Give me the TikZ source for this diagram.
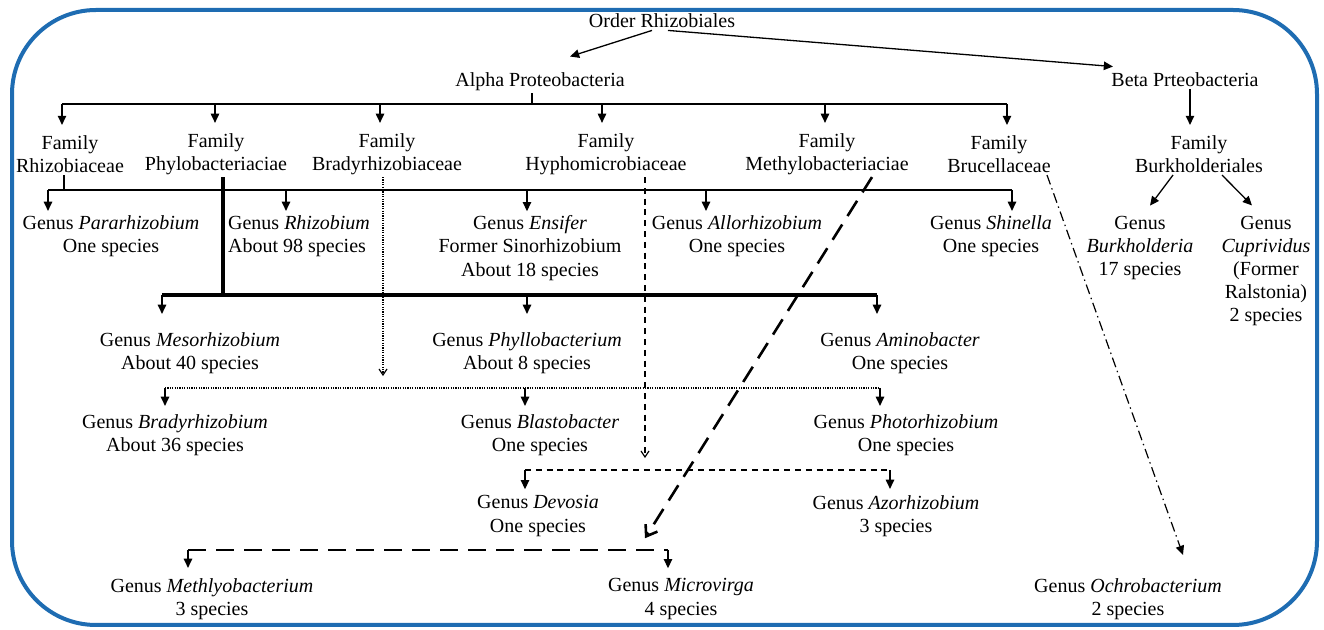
\documentclass[tikz,border=0pt]{standalone}
\usepackage{fontspec}
\setmainfont{Liberation Serif}
\newfontfamily\tnr{Liberation Serif}
\usetikzlibrary{arrows.meta}
\definecolor{framecol}{RGB}{30,108,178}
\begin{document}
\begin{tikzpicture}[x=0.5pt,y=-0.5pt,
  font=\tnr\fontsize{10}{11.6}\selectfont,
  lbl/.style={align=center, inner sep=1pt},
  conn/.style={line width=0.65pt},
  arr/.style={conn, -{Triangle[length=4.6pt,width=4.2pt]}},
  thickbar/.style={line width=1.7pt},
  dotline/.style={line width=0.6pt, dash pattern=on 0.6pt off 0.6pt},
  dashline/.style={line width=0.6pt, dash pattern=on 3pt off 2.4pt},
  longdash/.style={line width=1.3pt, dash pattern=on 9pt off 5pt},
  dashdot/.style={line width=0.6pt, dash pattern=on 5pt off 2pt on 0.7pt off 2pt},
  barb/.style={-{Straight Barb[length=3pt,width=4pt]}},
  bigbarb/.style={-{Straight Barb[length=5pt,width=7pt,line width=1.3pt]}}]
\useasboundingbox (0,0) rectangle (1324,630);
\draw[framecol, line width=2pt, rounded corners=42pt] (12,10) rectangle (1317,625);

% nodes
\node[lbl] (order) at (662,21) {Order Rhizobiales};
\node[lbl] (alpha) at (540,82) {Alpha Proteobacteria};
\node[lbl] (beta) at (1185,80) {Beta Prteobacteria};

\node[lbl] (fRhi) at (70,154) {Family\\Rhizobiaceae};
\node[lbl] (fPhy) at (216,154) {Family\\Phylobacteriaciae};
\node[lbl] (fBra) at (387,154) {Family\\Bradyrhizobiaceae};
\node[lbl] (fHyp) at (606,154) {Family\\Hyphomicrobiaceae};
\node[lbl] (fMet) at (827,154) {Family\\Methylobacteriaciae};
\node[lbl] (fBru) at (999,154) {Family\\Brucellaceae};
\node[lbl] (fBur) at (1199,154) {Family\\Burkholderiales};

\node[lbl] (gPar) at (111,236) {Genus \textit{Pararhizobium}\\One species};
\node[lbl,align=left] (gRhi) at (299,236) {Genus \textit{Rhizobium}\\About 98 species};
\node[lbl] (gEns) at (530,248) {Genus \textit{Ensifer}\\Former Sinorhizobium\\About 18 species};
\node[lbl] (gAll) at (737,236) {Genus \textit{Allorhizobium}\\One species};
\node[lbl] (gShi) at (991,236) {Genus \textit{Shinella}\\One species};
\node[lbl] (gBur) at (1140,248) {Genus\\\textit{Burkholderia}\\17 species};
\node[lbl] (gCup) at (1266,271) {Genus\\\textit{Cuprividus}\\(Former\\Ralstonia)\\2 species};

\node[lbl] (gMes) at (190,353) {Genus \textit{Mesorhizobium}\\About 40 species};
\node[lbl] (gPhy) at (527,353) {Genus \textit{Phyllobacterium}\\About 8 species};
\node[lbl] (gAmi) at (900,353) {Genus \textit{Aminobacter}\\One species};

\node[lbl] (gBra) at (175,435) {Genus \textit{Bradyrhizobium}\\About 36 species};
\node[lbl] (gBla) at (540,435) {Genus \textit{Blastobacter}\\One species};
\node[lbl] (gPho) at (906,435) {Genus \textit{Photorhizobium}\\One species};

\node[lbl] (gDev) at (538,516) {Genus \textit{Devosia}\\One species};
\node[lbl] (gAzo) at (896,516) {Genus \textit{Azorhizobium}\\3 species};

\node[lbl] (gMeth) at (212,599) {Genus \textit{Methlyobacterium}\\3 species};
\node[lbl] (gMic) at (681,599) {Genus \textit{Microvirga}\\4 species};
\node[lbl] (gOch) at (1128,599) {Genus \textit{Ochrobacterium}\\2 species};

% bar reference coordinates
\coordinate (aBar) at (532,104);
\coordinate (rBar) at (64,190);
\coordinate (pBar) at (223,295);
\coordinate (dBar) at (0,388);
\coordinate (hBar) at (0,470);
\coordinate (mBar) at (0,550);

% order level
\draw[arr] ([xshift=-5pt]order.south) -- ([xshift=15pt,yshift=7pt]alpha.north);
\draw[arr] ([xshift=3pt]order.south) -- ([xshift=-36pt,yshift=2pt]beta.north);
\draw[arr] ([xshift=2.5pt]beta.south) -- ([xshift=-4.5pt,yshift=4pt]fBur.north);

% alpha fan
\draw[conn] ([xshift=-4pt]alpha.south) -- (aBar);
\draw[conn] ([xshift=-4pt]fRhi.north |- aBar) -- ([xshift=4pt]fBru.north |- aBar);
\draw[arr] ([xshift=-4pt]fRhi.north |- aBar) -- ([xshift=-4pt,yshift=4pt]fRhi.north);
\draw[arr] ([xshift=-0.5pt]fPhy.north |- aBar) -- ([xshift=-0.5pt,yshift=4pt]fPhy.north);
\draw[arr] ([xshift=-3.5pt]fBra.north |- aBar) -- ([xshift=-3.5pt,yshift=4pt]fBra.north);
\draw[arr] ([xshift=-2pt]fHyp.north |- aBar) -- ([xshift=-2pt,yshift=4pt]fHyp.north);
\draw[arr] ([xshift=-1pt]fMet.north |- aBar) -- ([xshift=-1pt,yshift=4pt]fMet.north);
\draw[arr] ([xshift=4pt]fBru.north |- aBar) -- ([xshift=4pt,yshift=4pt]fBru.north);

% Burkholderiales
\draw[arr] ([xshift=-13pt]fBur.south) -- ([xshift=5pt,yshift=4pt]gBur.north);
\draw[arr] ([xshift=11.5pt]fBur.south) -- ([xshift=-7pt,yshift=4pt]gCup.north);

% Rhizobiaceae fan
\draw[conn] ([xshift=-3pt]fRhi.south) -- (rBar);
\draw[conn] ([xshift=-31.5pt]gPar.north |- rBar) -- ([xshift=10.5pt]gShi.north |- rBar);
\draw[arr] ([xshift=-31.5pt]gPar.north |- rBar) -- ([xshift=-31.5pt,yshift=1pt]gPar.north);
\draw[arr] ([xshift=-6.5pt]gRhi.north |- rBar) -- ([xshift=-6.5pt,yshift=1pt]gRhi.north);
\draw[arr] ([xshift=-1.5pt]gEns.north |- rBar) -- ([xshift=-1.5pt,yshift=1pt]gEns.north);
\draw[arr] ([xshift=-15.5pt]gAll.north |- rBar) -- ([xshift=-15.5pt,yshift=1pt]gAll.north);
\draw[arr] ([xshift=10.5pt]gShi.north |- rBar) -- ([xshift=10.5pt,yshift=1pt]gShi.north);

% Phylobacteriaciae fan (thick)
\draw[thickbar] ([xshift=3.5pt]fPhy.south) -- (pBar);
\draw[thickbar] ([xshift=-14pt]gMes.north |- pBar) -- ([xshift=-11.5pt]gAmi.north |- pBar);
\draw[arr] ([xshift=-14pt]gMes.north |- pBar) -- ([xshift=-14pt,yshift=8pt]gMes.north);
\draw[arr] (gPhy.north |- pBar) -- ([yshift=8pt]gPhy.north);
\draw[arr] ([xshift=-11.5pt]gAmi.north |- pBar) -- ([xshift=-11.5pt,yshift=8pt]gAmi.north);

% Bradyrhizobiaceae (dotted)
\draw[dotline, barb] ([xshift=-2pt]fBra.south) -- ([xshift=-2pt]fBra.south |- gMes.south);
\draw[dotline] ([xshift=-5pt]gBra.north |- dBar) -- ([xshift=-13pt]gPho.north |- dBar);
\draw[arr] ([xshift=-5pt]gBra.north |- dBar) -- ([xshift=-5pt,yshift=3pt]gBra.north);
\draw[arr] ([xshift=-7.5pt]gBla.north |- dBar) -- ([xshift=-7.5pt,yshift=3pt]gBla.north);
\draw[arr] ([xshift=-13pt]gPho.north |- dBar) -- ([xshift=-13pt,yshift=3pt]gPho.north);

% Hyphomicrobiaceae (dashed)
\draw[dashline, barb] ([xshift=19.5pt]fHyp.south) -- ([xshift=19.5pt]fHyp.south |- gBla.south);
\draw[dashline] ([xshift=-6.5pt]gDev.north |- hBar) -- ([xshift=-3pt]gAzo.north |- hBar);
\draw[arr] ([xshift=-6.5pt]gDev.north |- hBar) -- ([xshift=-6.5pt,yshift=2pt]gDev.north);
\draw[arr] ([xshift=-3pt]gAzo.north |- hBar) -- ([xshift=-3pt,yshift=2pt]gAzo.north);

% Methylobacteriaciae (long dashed)
\draw[longdash, bigbarb] ([xshift=22.5pt]fMet.south) -- ([xshift=-18pt,yshift=19pt]gMic.north);
\draw[longdash] ([xshift=-12pt]gMeth.north |- mBar) -- ([xshift=-6.5pt]gMic.north |- mBar);
\draw[arr] ([xshift=-12pt]gMeth.north |- mBar) -- ([xshift=-12pt,yshift=4pt]gMeth.north);
\draw[arr] ([xshift=-6.5pt]gMic.north |- mBar) -- ([xshift=-6.5pt,yshift=4pt]gMic.north);

% Brucellaceae (dash-dot)
\draw[dashdot, -{Triangle[length=4.6pt,width=4.2pt]}] ([xshift=24pt]fBru.south) -- ([xshift=27.5pt,yshift=10.5pt]gOch.north);
\end{tikzpicture}
\end{document}
